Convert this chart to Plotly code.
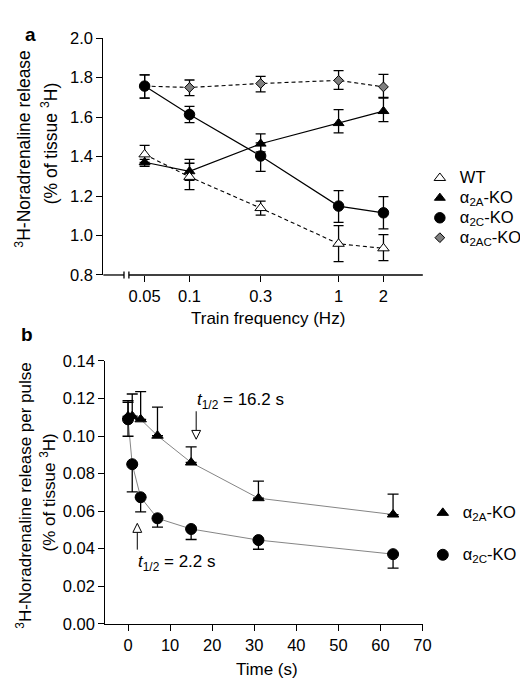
import plotly.graph_objects as go

# ---------------- Panel a data ----------------
freq = [0.05, 0.1, 0.3, 1, 2]
freq_labels = ["0.05", "0.1", "0.3", "1", "2"]

wt = [1.411, 1.297, 1.139, 0.958, 0.935]
wt_up = [0.046, 0.069, 0.035, 0.092, 0.070]
wt_dn = [0.040, 0.065, 0.036, 0.090, 0.062]

a2a = [1.371, 1.325, 1.465, 1.569, 1.630]
a2a_up = [0.015, 0.061, 0.050, 0.069, 0.070]
a2a_dn = [0.020, 0.045, 0.041, 0.049, 0.053]

a2c = [1.757, 1.613, 1.403, 1.149, 1.115]
a2c_up = [0.057, 0.041, 0.066, 0.078, 0.082]
a2c_dn = [0.061, 0.041, 0.078, 0.082, 0.081]

a2ac = [1.757, 1.750, 1.770, 1.786, 1.753]
a2ac_up = [0.057, 0.038, 0.036, 0.049, 0.063]
a2ac_dn = [0.061, 0.041, 0.042, 0.046, 0.057]

# ---------------- Panel b data ----------------
time_s = [0, 1, 3, 7, 15, 31, 63]
b_a2a = [0.1105, 0.1106, 0.1089, 0.1002, 0.0859, 0.0669, 0.0582]
b_a2a_up = [0.0075, 0.0118, 0.0148, 0.0152, 0.0083, 0.0091, 0.0109]
b_a2c = [0.1089, 0.0850, 0.0674, 0.0562, 0.0505, 0.0446, 0.0371]
b_a2c_up = [0.0100, 0, 0, 0, 0, 0, 0]
b_a2c_dn = [0.0090, 0.0147, 0.0078, 0.0047, 0.0056, 0.0049, 0.0074]
half_life = [16.2, 2.2]

FONT = "Liberation Sans, Arial, Helvetica, sans-serif"
W, H = 528, 680

def px_x(p):
    return p / W

def px_y(p):
    return 1 - p / H

xa_dom = [px_x(97), px_x(422)]
ya_dom = [px_y(265), px_y(21.7)]
xb_dom = [px_x(99), px_x(421.7)]
yb_dom = [px_y(623.3), px_y(353.3)]

fig = go.Figure()

def eb(up, dn=None, w=5):
    d = dict(type="data", array=up, color="black", thickness=1.3, width=w, visible=True)
    if dn is not None:
        d["symmetric"] = False
        d["arrayminus"] = dn
    return d

solid = dict(color="black", width=1.2)
dashed = dict(color="black", width=1.1, dash="4px,3px")

# Panel a lines
fig.add_trace(go.Scatter(x=freq, y=a2ac, mode="lines", line=dashed, showlegend=False, xaxis="x", yaxis="y"))
fig.add_trace(go.Scatter(x=freq, y=wt, mode="lines", line=dashed, showlegend=False, xaxis="x", yaxis="y"))
fig.add_trace(go.Scatter(x=freq, y=a2a, mode="lines", line=solid, showlegend=False, xaxis="x", yaxis="y"))
fig.add_trace(go.Scatter(x=freq, y=a2c, mode="lines", line=solid, showlegend=False, xaxis="x", yaxis="y"))

def lname(s):
    return '<span style="font-size:16.5px">' + s + '</span>'

# Panel a markers
fig.add_trace(go.Scatter(x=freq, y=a2ac, mode="markers", error_y=eb(a2ac_up, a2ac_dn),
                         marker=dict(symbol="diamond", size=7.5, color="#7f7f7f", line=dict(color="black", width=1)),
                         name=lname("α<sub>2AC</sub>-KO"), legend="legend", legendrank=4, xaxis="x", yaxis="y"))
fig.add_trace(go.Scatter(x=freq, y=a2a, mode="markers", error_y=eb(a2a_up, a2a_dn),
                         marker=dict(symbol="triangle-up", size=9.5, color="black", line=dict(color="black", width=1)),
                         name=lname("α<sub>2A</sub>-KO"), legend="legend", legendrank=2, xaxis="x", yaxis="y"))
fig.add_trace(go.Scatter(x=freq, y=wt, mode="markers", error_y=eb(wt_up, wt_dn),
                         marker=dict(symbol="triangle-up", size=10, color="white", line=dict(color="black", width=1)),
                         name=lname("WT"), legend="legend", legendrank=1, xaxis="x", yaxis="y"))
fig.add_trace(go.Scatter(x=freq, y=a2c, mode="markers", error_y=eb(a2c_up, a2c_dn),
                         marker=dict(symbol="circle", size=10.5, color="black", line=dict(color="black", width=1)),
                         name=lname("α<sub>2C</sub>-KO"), legend="legend", legendrank=3, xaxis="x", yaxis="y"))

# Panel b
grey = dict(color="#777777", width=0.9)
fig.add_trace(go.Scatter(x=time_s, y=b_a2a, mode="lines", line=grey, showlegend=False, xaxis="x2", yaxis="y2"))
fig.add_trace(go.Scatter(x=time_s, y=b_a2c, mode="lines", line=grey, showlegend=False, xaxis="x2", yaxis="y2"))
fig.add_trace(go.Scatter(x=time_s, y=b_a2a, mode="markers",
                         error_y=eb(b_a2a_up, [0] * len(time_s), w=5.5),
                         marker=dict(symbol="triangle-up", size=10, color="black", line=dict(color="black", width=1)),
                         name=lname("α<sub>2A</sub>-KO"), legend="legend2", legendgroup="g1", xaxis="x2", yaxis="y2"))
fig.add_trace(go.Scatter(x=time_s, y=b_a2c, mode="markers",
                         error_y=eb(b_a2c_up, b_a2c_dn, w=5.5),
                         marker=dict(symbol="circle", size=11, color="black", line=dict(color="black", width=1)),
                         name=lname("α<sub>2C</sub>-KO"), legend="legend2", legendgroup="g2", xaxis="x2", yaxis="y2"))

axis_common = dict(showgrid=False, zeroline=False, ticks="outside", ticklen=6, tickwidth=1.2,
                   tickcolor="black", linecolor="black", linewidth=1.3,
                   tickfont=dict(family=FONT, size=16.5, color="black"))

fig.update_layout(
    width=W, height=H, autosize=False,
    margin=dict(l=0, r=0, t=0, b=0),
    paper_bgcolor="white", plot_bgcolor="white",
    font=dict(family=FONT, color="black"),
    xaxis=dict(domain=xa_dom, anchor="y", type="log", range=[-1.578, 0.565],
               tickvals=freq, ticktext=freq_labels, showline=False, **axis_common),
    yaxis=dict(domain=ya_dom, anchor="x", range=[0.8, 2.0], dtick=0.2, tickformat=".1f",
               showline=True, **axis_common),
    xaxis2=dict(domain=xb_dom, anchor="y2", range=[-5.4, 70], dtick=10, showline=True, **axis_common),
    yaxis2=dict(domain=yb_dom, anchor="x2", range=[0, 0.14], dtick=0.02, tickformat=".2f",
                showline=True, **axis_common),
    legend=dict(x=px_x(419), y=px_y(150), xanchor="left", yanchor="top",
                font=dict(family=FONT, size=13, color="black"), bgcolor="rgba(0,0,0,0)",
                itemsizing="trace", traceorder="normal", tracegroupgap=0),
    legend2=dict(x=px_x(422), y=px_y(494), xanchor="left", yanchor="top",
                 font=dict(family=FONT, size=13, color="black"), bgcolor="rgba(0,0,0,0)",
                 itemsizing="trace", traceorder="grouped", tracegroupgap=22),
)

# axis break on panel a x axis
ax_y = ya_dom[0]
b1, b2 = px_x(118), px_x(123)
hh = 3.5 / H
shapes = [
    dict(type="line", xref="paper", yref="paper", x0=xa_dom[0], x1=b1, y0=ax_y, y1=ax_y, line=dict(color="black", width=1.3)),
    dict(type="line", xref="paper", yref="paper", x0=b2, x1=xa_dom[1], y0=ax_y, y1=ax_y, line=dict(color="black", width=1.3)),
    dict(type="line", xref="paper", yref="paper", x0=b1, x1=b1, y0=ax_y - hh, y1=ax_y + hh, line=dict(color="black", width=1.3)),
    dict(type="line", xref="paper", yref="paper", x0=b2, x1=b2, y0=ax_y - hh, y1=ax_y + hh, line=dict(color="black", width=1.3)),
]

# half-life arrows (open heads) in panel b
t_hi, t_lo = half_life
shapes += [
    dict(type="line", xref="x2", yref="y2", x0=t_hi, x1=t_hi, y0=0.1132, y1=0.1030, line=dict(color="black", width=1)),
    dict(type="path", xref="x2", yref="y2",
         path=f"M {t_hi-1.05},0.1030 L {t_hi+1.05},0.1030 L {t_hi},0.0983 Z",
         line=dict(color="black", width=1), fillcolor="white"),
    dict(type="line", xref="x2", yref="y2", x0=t_lo, x1=t_lo, y0=0.0395, y1=0.0487, line=dict(color="black", width=1)),
    dict(type="path", xref="x2", yref="y2",
         path=f"M {t_lo-1.05},0.0487 L {t_lo+1.05},0.0487 L {t_lo},0.0535 Z",
         line=dict(color="black", width=1), fillcolor="white"),
]
fig.update_layout(shapes=shapes)

def ann(text, x, y, size=17, angle=0, xanchor="center", yanchor="middle", xref="paper", yref="paper"):
    fig.add_annotation(text=text, x=x, y=y, xref=xref, yref=yref, showarrow=False, textangle=angle,
                       xanchor=xanchor, yanchor=yanchor, font=dict(family=FONT, size=size, color="black"))

ann("<b>a</b>", px_x(22.5), px_y(18), size=19)
ann("<b>b</b>", px_x(19), px_y(326), size=19)
ann("<sup>3</sup>H-Noradrenaline release", px_x(15.5), px_y(136), size=17.5, angle=-90)
ann("(% of tissue <sup>3</sup>H)", px_x(41.5), px_y(130), size=17.5, angle=-90)
ann("Train frequency (Hz)", px_x(265), px_y(310))
ann("<sup>3</sup>H-Noradrenaline release per pulse", px_x(16), px_y(491), angle=-90)
ann("(% of tissue <sup>3</sup>H)", px_x(41), px_y(488), angle=-90)
ann("Time (s)", px_x(263), px_y(670))
ann(f"<i>t</i><sub>1/2</sub> = {t_hi} s", t_hi - 0.4, 0.1185, xanchor="left", xref="x2", yref="y2")
ann(f"<i>t</i><sub>1/2</sub> = {t_lo} s", t_lo - 0.4, 0.0323, xanchor="left", xref="x2", yref="y2")

fig.write_html("out.html")
